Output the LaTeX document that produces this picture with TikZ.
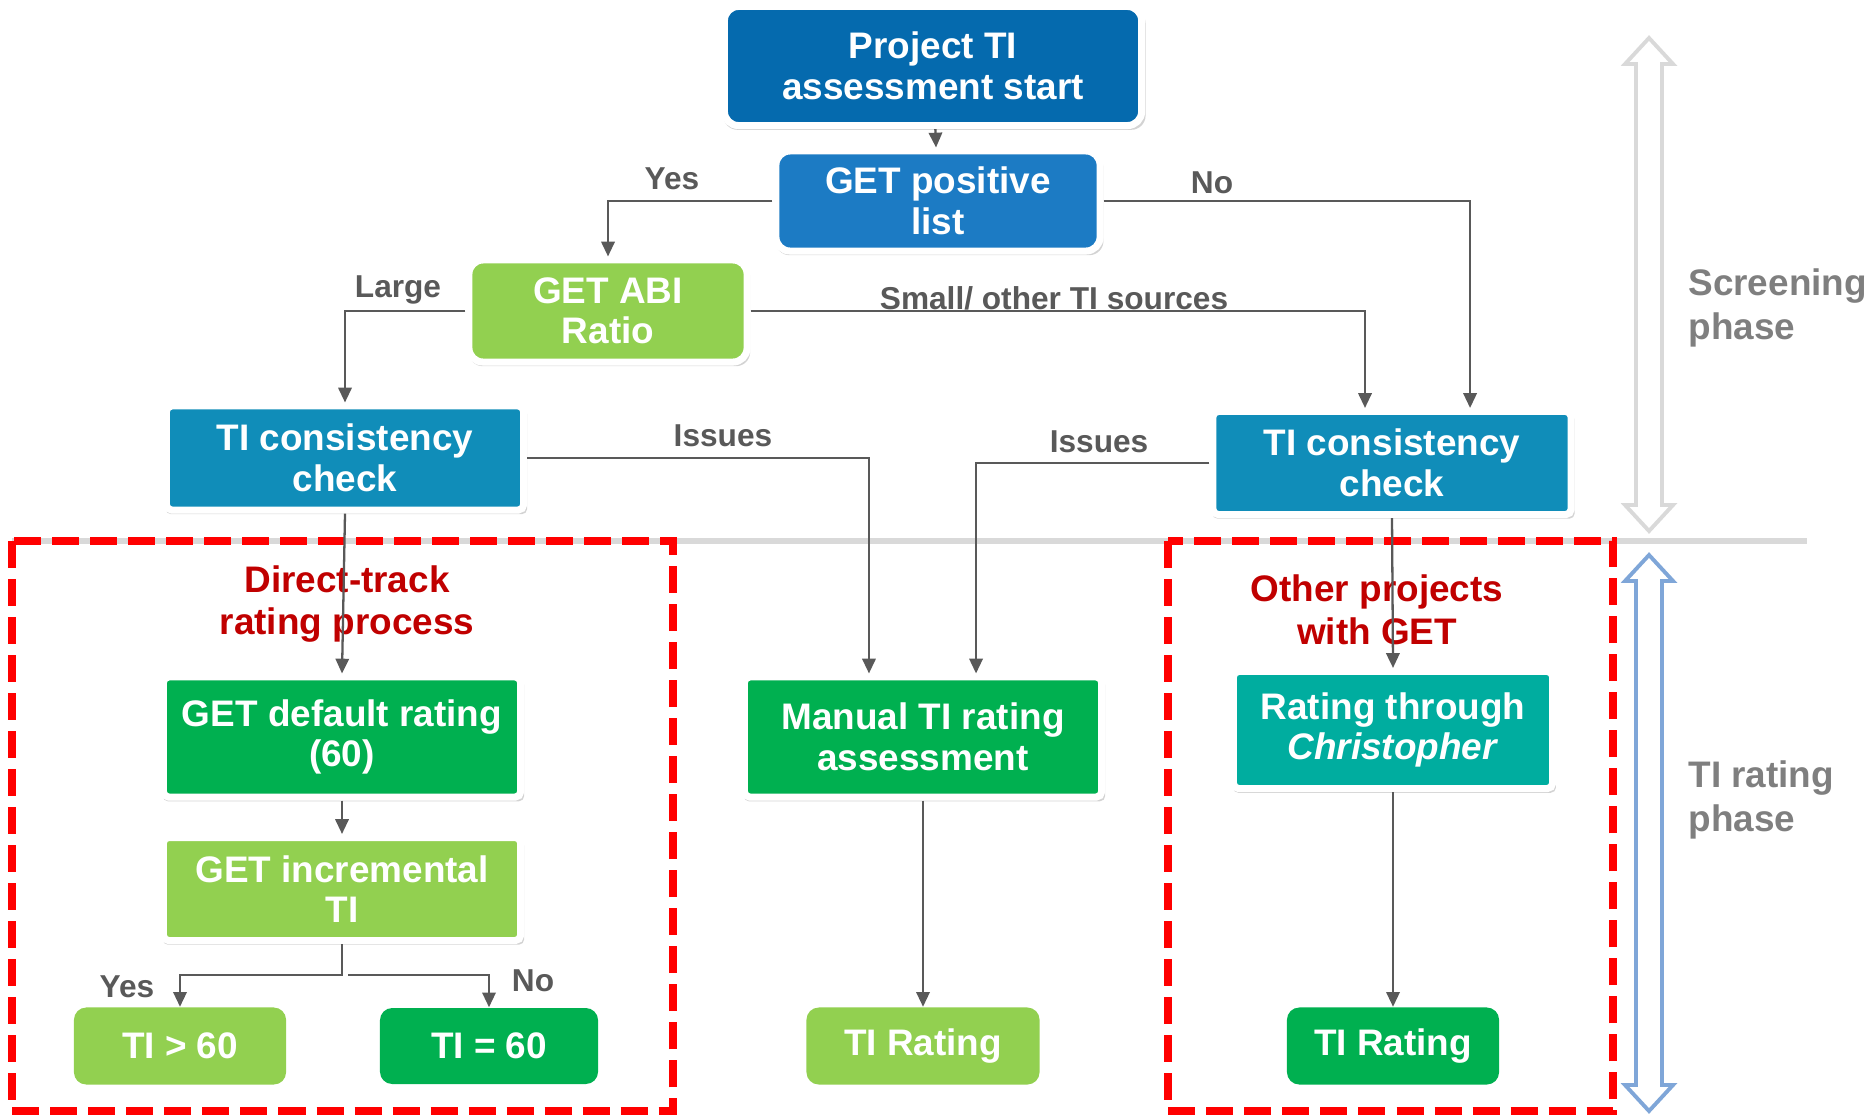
\documentclass[tikz,border=0pt]{standalone}
\usepackage{fontspec}
\setmainfont{Liberation Sans}
\usetikzlibrary{arrows.meta,shadows}
\definecolor{startblue}{RGB}{5,106,174}
\definecolor{listblue}{RGB}{28,123,196}
\definecolor{checkblue}{RGB}{16,141,185}
\definecolor{lightgreen}{RGB}{146,208,80}
\definecolor{darkgreen}{RGB}{0,176,80}
\definecolor{tealgreen}{RGB}{0,173,159}
\definecolor{linegray}{RGB}{89,89,89}
\definecolor{phasegray}{RGB}{127,127,127}
\definecolor{darkred}{RGB}{192,0,0}
\definecolor{rulegray}{RGB}{217,217,217}
\definecolor{phaseblue}{RGB}{127,166,216}
\begin{document}
\begin{tikzpicture}[x=0.01cm, y=-0.01cm,
    flowbox/.style={draw=white, line width=2pt, inner sep=0pt, align=center, text=white,
      font=\bfseries\fontsize{10.5}{11.5}\selectfont, rounded corners=1.5pt,
      drop shadow={opacity=0.35, shadow xshift=0.4pt, shadow yshift=-1pt, shadow scale=1.012}},
    resultbox/.style={inner sep=0pt, text=white, rounded corners=3.5pt,
      font=\bfseries\fontsize{10.5}{11.5}\selectfont},
    conn/.style={draw=linegray, line width=0.65pt, -{Triangle[length=4.2pt,width=3.8pt]}},
    lbl/.style={text=linegray, font=\bfseries\fontsize{9}{10}\selectfont},
    grouplbl/.style={text=darkred, align=center, font=\bfseries\fontsize{10.5}{12.2}\selectfont},
    phaselbl/.style={text=phasegray, align=left, anchor=west, font=\bfseries\fontsize{10.5}{12.5}\selectfont},
    phasearrow/.style={line width=1.1pt, fill=white}]
  \useasboundingbox (0,0) rectangle (1874,1115);

  % phase separator and groups
  \draw[rulegray, line width=1.7pt] (12,541) -- (1807,541);
  \draw[red, line width=2.3pt, dash pattern=on 0.27cm off 0.11cm] (12,541) rectangle (673,1111);
  \draw[red, line width=2.3pt, dash pattern=on 0.27cm off 0.11cm] (1168,541) rectangle (1613,1111);

  % phase arrows
  \draw[phasearrow, draw=rulegray] (1649,38) -- (1673,64) -- (1662,64) -- (1662,505) -- (1673,505)
    -- (1649,531) -- (1625,505) -- (1636,505) -- (1636,64) -- (1625,64) -- cycle;
  \draw[phasearrow, draw=phaseblue] (1649,555) -- (1673,581) -- (1662,581) -- (1662,1085) -- (1673,1085)
    -- (1649,1111) -- (1625,1085) -- (1636,1085) -- (1636,581) -- (1625,581) -- cycle;
  \node[phaselbl] (screen) at (1676,308) {Screening\\phase};
  \node[phaselbl] (rating) at (1676,800) {TI rating\\phase};

  % screening boxes
  \node[flowbox, fill=startblue, rounded corners=4pt, minimum width=4.17cm, minimum height=1.19cm] (start) at (933,66) {Project TI\\assessment start};
  \node[flowbox, fill=listblue, rounded corners=4pt, minimum width=3.24cm, minimum height=1.0cm] (poslist) at (938,201) {GET positive\\list};
  \node[flowbox, fill=lightgreen, rounded corners=4pt, minimum width=2.78cm, minimum height=1.02cm] (abi) at (608,311) {GET ABI\\Ratio};
  \node[flowbox, fill=checkblue, minimum width=3.57cm, minimum height=1.04cm] (checkL) at (345,458) {TI consistency\\check};
  \node[flowbox, fill=checkblue, minimum width=3.58cm, minimum height=1.03cm] (checkR) at (1392,463) {TI consistency\\check};

  % rating boxes
  \node[flowbox, fill=darkgreen, minimum width=3.57cm, minimum height=1.2cm] (default) at (342,737) {GET default rating\\(60)};
  \node[flowbox, fill=lightgreen, minimum width=3.57cm, minimum height=1.03cm] (incr) at (342,889) {GET incremental\\TI};
  \node[flowbox, fill=darkgreen, minimum width=3.57cm, minimum height=1.2cm] (manual) at (923,737) {Manual TI rating\\assessment};
  \node[flowbox, fill=tealgreen, minimum width=3.19cm, minimum height=1.17cm] (christ) at (1393,730) {Rating through\\\textit{Christopher}};
  \node[resultbox, fill=lightgreen, minimum width=2.12cm, minimum height=0.77cm] (gt) at (180,1046) {TI > 60};
  \node[resultbox, fill=darkgreen, minimum width=2.18cm, minimum height=0.76cm] (eq) at (489,1046) {TI = 60};
  \node[resultbox, fill=lightgreen, minimum width=2.33cm, minimum height=0.77cm] (rateM) at (923,1046) {TI Rating};
  \node[resultbox, fill=darkgreen, minimum width=2.12cm, minimum height=0.77cm] (rateR) at (1393,1046) {TI Rating};

  % group titles
  \node[grouplbl] (direct) at (347,604) {Direct-track\\rating process};
  \node[grouplbl] (other) at (1377,610) {Other projects\\with GET};

  % connectors
  \draw[conn] (start) -- (poslist);
  \draw[conn] (poslist.west) -| (abi.north);
  \draw[conn] (poslist.east) -| ([xshift=0.78cm]checkR.north);
  \draw[conn] (abi.west) -| (checkL.north);
  \draw[conn] (abi.east) -| ([xshift=-0.27cm]checkR.north);
  \draw[conn] (checkL.east) -| ([xshift=-0.54cm]manual.north);
  \draw[conn] (checkR.west) -| ([xshift=0.53cm]manual.north);
  \draw[conn] (checkL.south) -- (default.north);
  \draw[conn] (checkR.south) -- (christ.north);
  \draw[conn] (default) -- (incr);
  \draw[conn] (incr.south) -- ++(0,31) -| (gt.north);
  \draw[conn] (incr.south) ++(6,31) -| (eq.north);
  \draw[conn] (manual) -- (rateM);
  \draw[conn] (christ) -- (rateR);

  % connector labels
  \node[lbl] (yes1) at (672,179) {Yes};
  \node[lbl] (no1) at (1212,183) {No};
  \node[lbl] (large) at (398,290) {Large};
  \node[lbl] (small) at (1054,298) {Small/ other TI sources};
  \node[lbl] (issL) at (723,436) {Issues};
  \node[lbl] (issR) at (1099,442) {Issues};
  \node[lbl] (yes2) at (127,987) {Yes};
  \node[lbl] (no2) at (533,981) {No};
\end{tikzpicture}
\end{document}
